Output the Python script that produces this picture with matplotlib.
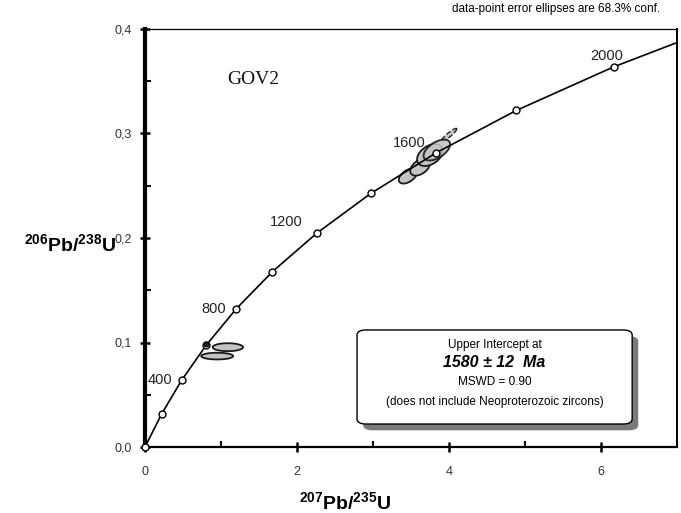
import numpy as np
import matplotlib
matplotlib.use('Agg')
import matplotlib.pyplot as plt
from matplotlib.patches import FancyBboxPatch
from matplotlib.ticker import FuncFormatter, MultipleLocator

plt.rcParams['font.family'] = ['Liberation Sans', 'DejaVu Sans']
plt.rcParams['mathtext.fontset'] = 'custom'
plt.rcParams['mathtext.rm'] = 'Liberation Sans'
plt.rcParams['mathtext.bf'] = 'Liberation Sans:bold'

# concordia age marks (Ma) and their ratios
ages = [0, 200, 400, 600, 800, 1000, 1200, 1400, 1600, 1800, 2000]
conc_x = [0.0, 0.218, 0.483, 0.806, 1.199, 1.677, 2.260, 2.970, 3.835, 4.887, 6.168]
conc_y = [0.0, 0.0315, 0.0640, 0.0975, 0.1321, 0.1678, 0.2046, 0.2426, 0.2817, 0.3221, 0.3638]
curve_end = (7.0, 0.387)
labelled_ages = [400, 800, 1200, 1600, 2000]

# data-point error ellipses: 207/235, 206/238, 1-sigma errors, correlation
ell_x = [1.09, 0.95, 0.81, 3.46, 3.62, 3.75, 3.84, 4.00]
ell_y = [0.0955, 0.0870, 0.0980, 0.2593, 0.2679, 0.2794, 0.2842, 0.2986]
ell_sx = [0.20, 0.21, 0.03, 0.120, 0.130, 0.170, 0.175, 0.102]
ell_sy = [0.0038, 0.0032, 0.0020, 0.0072, 0.0082, 0.0105, 0.0100, 0.0063]
ell_rho = [0.0, 0.0, 0.0, 0.50, 0.45, 0.40, 0.55, 0.92]

fig = plt.figure(figsize=(6.81, 5.13), dpi=100)
ax = fig.add_axes([145 / 681, 1 - 447 / 513, 532 / 681, 418 / 513])

t = np.linspace(0, 2 * np.pi, 120)
for i in range(len(ell_x)):
    ex = ell_x[i] + ell_sx[i] * np.cos(t)
    ey = ell_y[i] + ell_sy[i] * (ell_rho[i] * np.cos(t) + np.sqrt(1 - ell_rho[i] ** 2) * np.sin(t))
    if i == 2:
        ax.fill(ex, ey, fc='#222222', ec='#111111', lw=1.2, zorder=4)
    elif i == 7:
        ax.fill(ex, ey, fc='#c4c4c4', ec='#222222', lw=1.0, ls='--', zorder=2)
    elif i == 6:
        ax.fill(ex, ey, fc='#c4c4c4', ec='#111111', lw=1.4, zorder=2.2, alpha=0.85)
    else:
        ax.fill(ex, ey, fc='#c4c4c4', ec='#1a1a1a', lw=1.3, zorder=2)

ax.plot(conc_x + [curve_end[0]], conc_y + [curve_end[1]], color='black', lw=1.2, zorder=3)
ax.plot(conc_x, conc_y, 'o', ms=5, mfc='white', mec='black', mew=1.0, zorder=3, clip_on=False)

offsets = {400: (-7, 0, 'right'), 800: (-7, 0, 'right'), 1200: (-10, 8, 'right'),
           1600: (-8, 7, 'right'), 2000: (-5, 8, 'center')}
for a in labelled_ages:
    k = ages.index(a)
    dx, dy, ha = offsets[a]
    ax.annotate(str(a), (conc_x[k], conc_y[k]), xytext=(dx, dy), textcoords='offset points',
                ha=ha, va='center', fontsize=10.5, color='#222222')

ax.set_xlim(0, 7)
ax.set_ylim(0, 0.4)
ax.xaxis.set_major_locator(MultipleLocator(2))
ax.xaxis.set_minor_locator(MultipleLocator(1))
ax.yaxis.set_major_locator(MultipleLocator(0.1))
ax.yaxis.set_minor_locator(MultipleLocator(0.05))
ax.yaxis.set_major_formatter(FuncFormatter(lambda v, p: f'{v:.1f}'.replace('.', ',')))
ax.tick_params(which='major', direction='inout', length=7, width=1.8, labelsize=9,
               labelcolor='#333333', pad=6)
ax.tick_params(which='minor', direction='in', length=4, width=1.5)
ax.tick_params(axis='x', pad=10)

ax.spines['left'].set_linewidth(3.0)
ax.spines['bottom'].set_linewidth(1.6)
ax.spines['top'].set_linewidth(0.9)
ax.spines['right'].set_linewidth(1.4)

ax.text(0.155, 0.88, 'GOV2', transform=ax.transAxes, fontsize=14,
        family=['Liberation Serif', 'DejaVu Serif'], ha='left', va='center', color='#111111')

# intercept box with drop shadow
bx0, by0, bw, bh = 2.79, 0.022, 3.62, 0.090
shadow = FancyBboxPatch((bx0 + 0.08, by0 - 0.006), bw, bh,
                        boxstyle='round,pad=0,rounding_size=0.12', mutation_aspect=0.04,
                        fc='#7a7a7a', ec='none', zorder=5)
box = FancyBboxPatch((bx0, by0), bw, bh,
                     boxstyle='round,pad=0,rounding_size=0.12', mutation_aspect=0.04,
                     fc='white', ec='black', lw=1.0, zorder=6)
ax.add_patch(shadow)
ax.add_patch(box)
bx = bx0 + bw / 2
ax.text(bx, 0.0976, 'Upper Intercept at', ha='center', va='center', fontsize=8.5, zorder=7)
ax.text(bx, 0.0804, '1580 ± 12  Ma', ha='center', va='center', fontsize=11.5,
        fontweight='bold', fontstyle='italic', zorder=7)
ax.text(bx, 0.0622, 'MSWD = 0.90', ha='center', va='center', fontsize=8.5, zorder=7)
ax.text(bx, 0.0431, '(does not include Neoproterozoic zircons)', ha='center', va='center',
        fontsize=8.5, zorder=7)

fig.text(660 / 681, 1 - 9 / 513, 'data-point error ellipses are 68.3% conf.', ha='right',
         va='center', fontsize=8.5)
fig.text(70 / 681, 1 - 244 / 513, r'$\mathbf{^{206}Pb/^{238}U}$', ha='center', va='center',
         fontsize=14)
fig.text(345 / 681, 1 - 502 / 513, r'$\mathbf{^{207}Pb/^{235}U}$', ha='center', va='center',
         fontsize=14)

fig.savefig('out.png', dpi=100)
